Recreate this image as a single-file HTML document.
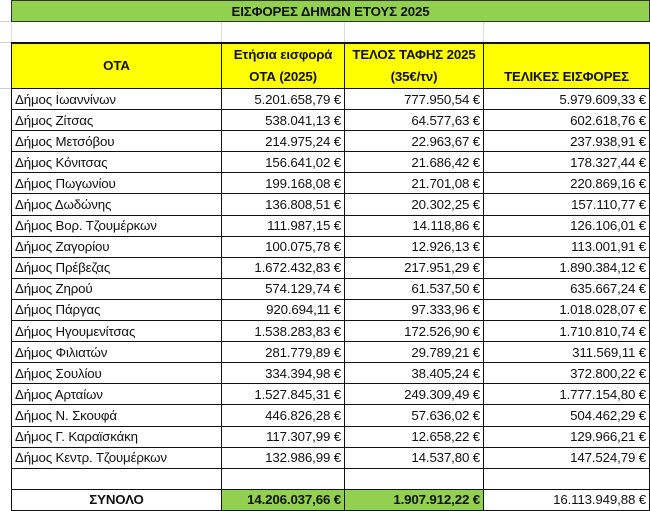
<!DOCTYPE html>
<html><head><meta charset="utf-8"><style>
body{margin:0;width:650px;height:510px;overflow:hidden;background:#fff;font-family:"Liberation Sans","DejaVu Sans",sans-serif;}
.stub{position:absolute;left:0;top:0;width:11px;height:510px;background:#fff;}
.stub div{position:absolute;left:0;width:11px;border-top:1px solid #d0d0d0;}
table{position:absolute;left:11px;top:0;border-collapse:collapse;table-layout:fixed;font-size:13.3px;letter-spacing:-0.15px;}
td{padding:0 3px;height:21.1px;box-sizing:border-box;white-space:nowrap;overflow:hidden;color:#111;}
td.n{text-align:right;}
.d td{border:1.5px solid #111;}
.title td{background:#92d050;border:1.5px solid #333;text-align:center;font-weight:bold;height:21px;}
.empty td{border-left:1px solid #ddd;height:21px;}
.hdr td{background:#ffff00;border:1.5px solid #111;border-top:2px solid #111;text-align:center;font-weight:bold;height:46px;vertical-align:middle;line-height:22px;}
.tot td{border:1.5px solid #111;font-weight:bold;}
.g{background:#92d050;}
</style></head><body>
<div class="stub"><div style="top:21px"></div><div style="top:42px"></div><div style="top:88px"></div></div>
<table>
<colgroup><col style="width:210px"><col style="width:123px"><col style="width:139px"><col style="width:166px"></colgroup>
<tr class="title"><td colspan="4">ΕΙΣΦΟΡΕΣ ΔΗΜΩΝ ΕΤΟΥΣ 2025</td></tr>
<tr class="empty"><td></td><td></td><td></td><td></td></tr>
<tr class="hdr"><td>ΟΤΑ</td><td>Ετήσια εισφορά<br>ΟΤΑ (2025)</td><td>ΤΕΛΟΣ ΤΑΦΗΣ 2025<br>(35€/τν)</td><td style="vertical-align:bottom">ΤΕΛΙΚΕΣ ΕΙΣΦΟΡΕΣ</td></tr>
<tbody class="d">
<tr><td>Δήμος Ιωαννίνων</td><td class="n">5.201.658,79 €</td><td class="n">777.950,54 €</td><td class="n">5.979.609,33 €</td></tr>
<tr><td>Δήμος Ζίτσας</td><td class="n">538.041,13 €</td><td class="n">64.577,63 €</td><td class="n">602.618,76 €</td></tr>
<tr><td>Δήμος Μετσόβου</td><td class="n">214.975,24 €</td><td class="n">22.963,67 €</td><td class="n">237.938,91 €</td></tr>
<tr><td>Δήμος Κόνιτσας</td><td class="n">156.641,02 €</td><td class="n">21.686,42 €</td><td class="n">178.327,44 €</td></tr>
<tr><td>Δήμος Πωγωνίου</td><td class="n">199.168,08 €</td><td class="n">21.701,08 €</td><td class="n">220.869,16 €</td></tr>
<tr><td>Δήμος Δωδώνης</td><td class="n">136.808,51 €</td><td class="n">20.302,25 €</td><td class="n">157.110,77 €</td></tr>
<tr><td>Δήμος Βορ. Τζουμέρκων</td><td class="n">111.987,15 €</td><td class="n">14.118,86 €</td><td class="n">126.106,01 €</td></tr>
<tr><td>Δήμος Ζαγορίου</td><td class="n">100.075,78 €</td><td class="n">12.926,13 €</td><td class="n">113.001,91 €</td></tr>
<tr><td>Δήμος Πρέβεζας</td><td class="n">1.672.432,83 €</td><td class="n">217.951,29 €</td><td class="n">1.890.384,12 €</td></tr>
<tr><td>Δήμος Ζηρού</td><td class="n">574.129,74 €</td><td class="n">61.537,50 €</td><td class="n">635.667,24 €</td></tr>
<tr><td>Δήμος Πάργας</td><td class="n">920.694,11 €</td><td class="n">97.333,96 €</td><td class="n">1.018.028,07 €</td></tr>
<tr><td>Δήμος Ηγουμενίτσας</td><td class="n">1.538.283,83 €</td><td class="n">172.526,90 €</td><td class="n">1.710.810,74 €</td></tr>
<tr><td>Δήμος Φιλιατών</td><td class="n">281.779,89 €</td><td class="n">29.789,21 €</td><td class="n">311.569,11 €</td></tr>
<tr><td>Δήμος Σουλίου</td><td class="n">334.394,98 €</td><td class="n">38.405,24 €</td><td class="n">372.800,22 €</td></tr>
<tr><td>Δήμος Αρταίων</td><td class="n">1.527.845,31 €</td><td class="n">249.309,49 €</td><td class="n">1.777.154,80 €</td></tr>
<tr><td>Δήμος Ν. Σκουφά</td><td class="n">446.826,28 €</td><td class="n">57.636,02 €</td><td class="n">504.462,29 €</td></tr>
<tr><td>Δήμος Γ. Καραϊσκάκη</td><td class="n">117.307,99 €</td><td class="n">12.658,22 €</td><td class="n">129.966,21 €</td></tr>
<tr><td>Δήμος Κεντρ. Τζουμέρκων</td><td class="n">132.986,99 €</td><td class="n">14.537,80 €</td><td class="n">147.524,79 €</td></tr>
<tr><td></td><td></td><td></td><td></td></tr>
</tbody>
<tr class="tot"><td style="text-align:center">ΣΥΝΟΛΟ</td><td class="n g">14.206.037,66 €</td><td class="n g">1.907.912,22 €</td><td class="n" style="font-weight:normal">16.113.949,88 €</td></tr>
</table>
</body></html>
